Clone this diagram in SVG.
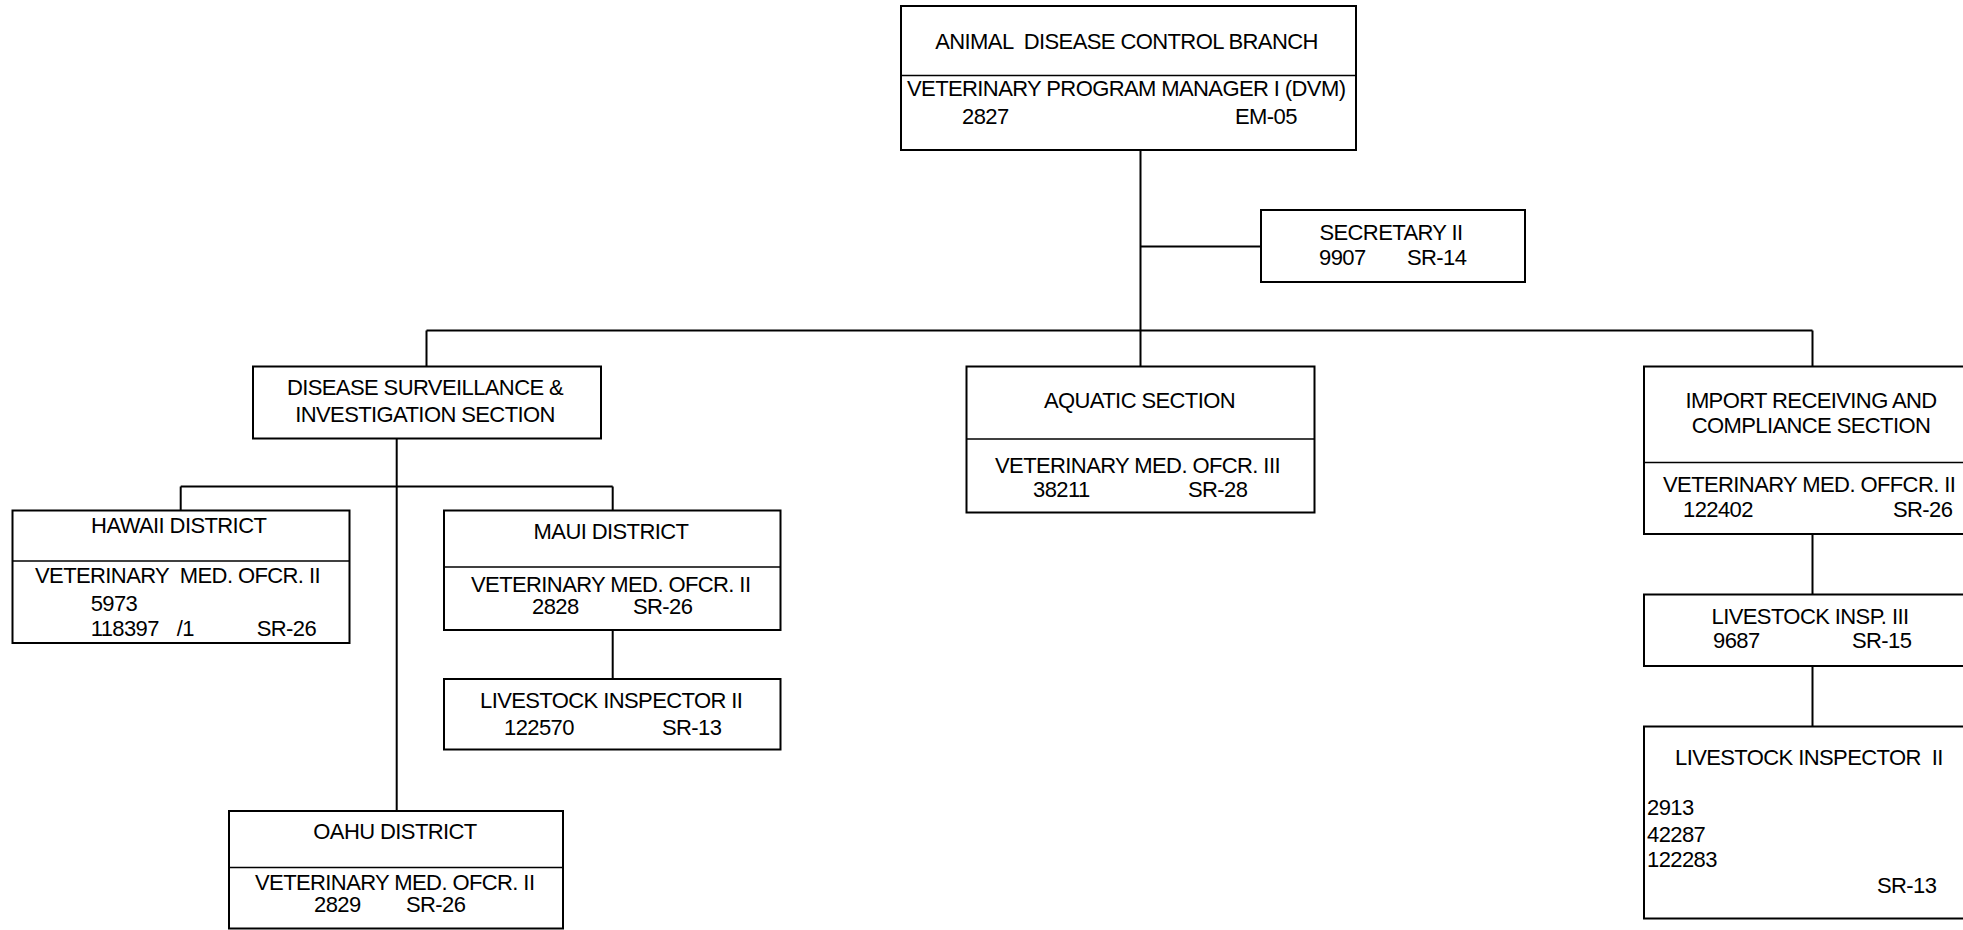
<svg xmlns="http://www.w3.org/2000/svg" width="1963" height="930" viewBox="0 0 1963 930">
<style>
.box{fill:#fff;stroke:#000;stroke-width:2}
.div{stroke:#000;stroke-width:1.5;fill:none}
.con{stroke:#000;stroke-width:2;fill:none}
text{font-family:"Liberation Sans",Arial,sans-serif;font-size:22px;letter-spacing:-0.6px;fill:#000}
.c{text-anchor:middle}
</style>
<rect width="1963" height="930" fill="#fff"/>
<g id="connectors">
<path class="con" d="M1140.5,150 V366.5 M1140.5,246.5 H1261 M426.5,330.5 H1812.5 M426.5,330.5 V366.5 M1812.5,330.5 V366.5"/>
<path class="con" d="M396.7,438.7 V811 M180.7,486.5 H612.7 M180.7,486.5 V510.5 M612.7,486.5 V510.5 M612.7,630 V679"/>
<path class="con" d="M1812.5,534 V594.5 M1812.5,666 V726.5"/>
</g>
<g id="branch">
<rect class="box" x="901" y="6" width="455" height="144"/>
<line class="div" x1="901" y1="75.5" x2="1356" y2="75.5"/>
<text class="c" x="1126.5" y="49" xml:space="preserve">ANIMAL  DISEASE CONTROL BRANCH</text>
<text x="907" y="96">VETERINARY PROGRAM MANAGER I (DVM)</text>
<text x="962" y="124">2827</text>
<text x="1235" y="124">EM-05</text>
</g>
<g id="secretary">
<rect class="box" x="1261" y="210" width="264" height="72"/>
<text class="c" x="1391" y="240">SECRETARY II</text>
<text x="1319" y="265">9907</text>
<text x="1407" y="265">SR-14</text>
</g>
<g id="dsi">
<rect class="box" x="253" y="366.5" width="348" height="72"/>
<text class="c" x="425" y="395">DISEASE SURVEILLANCE &amp;</text>
<text class="c" x="425" y="421.5">INVESTIGATION SECTION</text>
</g>
<g id="aquatic">
<rect class="box" x="966.5" y="366.5" width="348" height="146"/>
<line class="div" x1="966.5" y1="439" x2="1314.5" y2="439"/>
<text class="c" x="1139.5" y="408">AQUATIC SECTION</text>
<text x="995" y="472.5">VETERINARY MED. OFCR. III</text>
<text x="1033" y="497">38211</text>
<text x="1188" y="497">SR-28</text>
</g>
<g id="import">
<rect class="box" x="1644" y="366.5" width="340" height="167.5"/>
<line class="div" x1="1644" y1="462.5" x2="1963" y2="462.5"/>
<text class="c" x="1811" y="408">IMPORT RECEIVING AND</text>
<text class="c" x="1811" y="433">COMPLIANCE SECTION</text>
<text x="1663" y="491.5">VETERINARY MED. OFFCR. II</text>
<text x="1683" y="516.5">122402</text>
<text x="1893" y="516.5">SR-26</text>
</g>
<g id="hawaii">
<rect class="box" x="12.5" y="510.5" width="337" height="132.5"/>
<line class="div" x1="12.5" y1="561" x2="349.5" y2="561"/>
<text class="c" x="178.7" y="532.5">HAWAII DISTRICT</text>
<text x="35" y="583" xml:space="preserve">VETERINARY  MED. OFCR. II</text>
<text x="90.7" y="610.5">5973</text>
<text x="90.7" y="636">118397</text>
<text x="176.7" y="636">/1</text>
<text x="256.7" y="636">SR-26</text>
</g>
<g id="maui">
<rect class="box" x="444" y="510.5" width="336.5" height="119.5"/>
<line class="div" x1="444" y1="567" x2="780.5" y2="567"/>
<text class="c" x="611" y="539">MAUI DISTRICT</text>
<text x="471" y="591.5">VETERINARY MED. OFCR. II</text>
<text x="532" y="614">2828</text>
<text x="633" y="614">SR-26</text>
</g>
<g id="maui-inspector">
<rect class="box" x="444" y="679" width="336.5" height="70.5"/>
<text x="480" y="708">LIVESTOCK INSPECTOR II</text>
<text x="504" y="735">122570</text>
<text x="662" y="735">SR-13</text>
</g>
<g id="oahu">
<rect class="box" x="229" y="811" width="334" height="117.5"/>
<line class="div" x1="229" y1="867.5" x2="563" y2="867.5"/>
<text class="c" x="395" y="839">OAHU DISTRICT</text>
<text x="255" y="890">VETERINARY MED. OFCR. II</text>
<text x="314" y="912">2829</text>
<text x="406" y="912">SR-26</text>
</g>
<g id="livestock-insp-iii">
<rect class="box" x="1644" y="594.5" width="340" height="71.5"/>
<text class="c" x="1810" y="624">LIVESTOCK INSP. III</text>
<text x="1713" y="648">9687</text>
<text x="1852" y="648">SR-15</text>
</g>
<g id="livestock-inspector-ii">
<rect class="box" x="1644" y="726.5" width="340" height="192"/>
<text x="1675" y="765" xml:space="preserve">LIVESTOCK INSPECTOR  II</text>
<text x="1647" y="815">2913</text>
<text x="1647" y="841.5">42287</text>
<text x="1647" y="866.5">122283</text>
<text x="1877" y="893">SR-13</text>
</g>
</svg>
